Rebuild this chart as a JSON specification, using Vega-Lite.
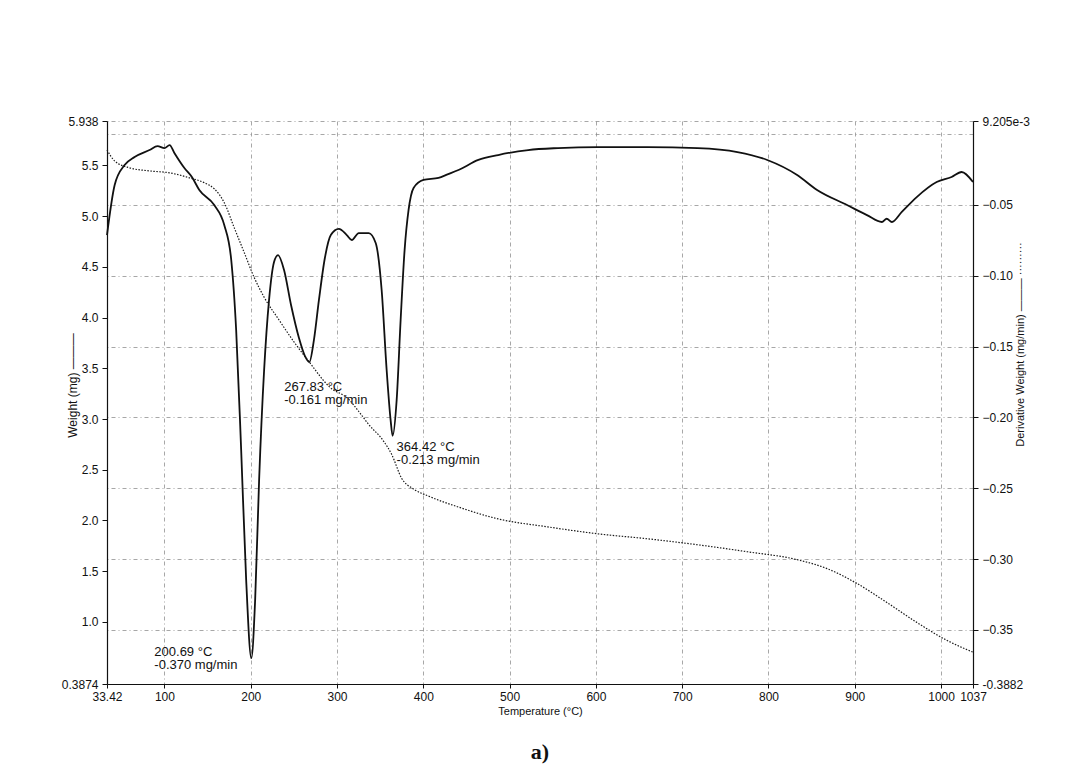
{
  "$schema": "https://vega.github.io/schema/vega-lite/v6.json",
  "width": 866,
  "height": 563,
  "autosize": {"type": "none"},
  "padding": {"left": 107, "top": 121, "right": 95, "bottom": 88},
  "background": "white",
  "title": {"text": "a)", "orient": "bottom", "anchor": "middle", "font": "Liberation Serif", "fontSize": 22, "fontWeight": "bold", "color": "#111", "offset": 26},
  "config": {
    "view": {"stroke": null},
    "font": "Liberation Sans",
    "axis": {"domainColor": "#111", "domainWidth": 1.2, "tickColor": "#111", "labelColor": "#111", "titleColor": "#111", "labelFont": "Liberation Sans", "titleFont": "Liberation Sans", "labelFontSize": 12, "titleFontSize": 11, "titleFontWeight": "normal", "labelOverlap": false, "labelFlush": false, "gridColor": "#8a8a8a", "gridDash": [4, 3, 1, 3], "gridOpacity": 0.75}
  },
  "datasets": {
    "weight": [
      {"T": 33.42, "W": 5.652}, {"T": 42.3, "W": 5.544}, {"T": 59.6, "W": 5.476}, {"T": 82.7, "W": 5.446},
      {"T": 105.8, "W": 5.427}, {"T": 128.9, "W": 5.378}, {"T": 146.2, "W": 5.329}, {"T": 157.7, "W": 5.27},
      {"T": 169.3, "W": 5.133}, {"T": 180.8, "W": 4.887}, {"T": 192.4, "W": 4.642}, {"T": 203.9, "W": 4.397},
      {"T": 215.5, "W": 4.201}, {"T": 232.8, "W": 3.976}, {"T": 250.1, "W": 3.76}, {"T": 267.6, "W": 3.564},
      {"T": 290.9, "W": 3.319}, {"T": 313.9, "W": 3.191}, {"T": 325.2, "W": 3.074}, {"T": 336.7, "W": 2.946},
      {"T": 354.1, "W": 2.78}, {"T": 363.3, "W": 2.652}, {"T": 374.8, "W": 2.417}, {"T": 388.7, "W": 2.309},
      {"T": 406.0, "W": 2.24}, {"T": 440.7, "W": 2.132}, {"T": 486.8, "W": 2.015}, {"T": 544.5, "W": 1.936},
      {"T": 602.3, "W": 1.868}, {"T": 660.0, "W": 1.819}, {"T": 717.8, "W": 1.76}, {"T": 775.6, "W": 1.691},
      {"T": 833.2, "W": 1.613}, {"T": 867.9, "W": 1.525}, {"T": 902.6, "W": 1.378}, {"T": 937.2, "W": 1.191},
      {"T": 971.8, "W": 0.995}, {"T": 1006.5, "W": 0.819}, {"T": 1037, "W": 0.701}
    ],
    "deriv": [
      {"T": 33.42, "D": -0.0713}, {"T": 42.3, "D": -0.036}, {"T": 53.8, "D": -0.0219}, {"T": 65.4, "D": -0.0162},
      {"T": 82.7, "D": -0.0113}, {"T": 92.0, "D": -0.0085}, {"T": 100.0, "D": -0.0099}, {"T": 106.0, "D": -0.0078},
      {"T": 111.5, "D": -0.0134}, {"T": 123.1, "D": -0.024}, {"T": 132.0, "D": -0.0305}, {"T": 140.4, "D": -0.0395},
      {"T": 157.7, "D": -0.0501}, {"T": 169.3, "D": -0.0642}, {"T": 177.4, "D": -0.0889}, {"T": 183.1, "D": -0.1383},
      {"T": 188.9, "D": -0.223}, {"T": 194.7, "D": -0.3148}, {"T": 200.69, "D": -0.37}, {"T": 205.1, "D": -0.3289},
      {"T": 209.7, "D": -0.2442}, {"T": 215.5, "D": -0.1666}, {"T": 221.2, "D": -0.1172}, {"T": 227.0, "D": -0.0903},
      {"T": 231.6, "D": -0.0854}, {"T": 238.6, "D": -0.096}, {"T": 246.7, "D": -0.1207}, {"T": 255.9, "D": -0.144},
      {"T": 262.8, "D": -0.1567}, {"T": 267.83, "D": -0.161}, {"T": 273.2, "D": -0.1454}, {"T": 279.0, "D": -0.1172},
      {"T": 285.9, "D": -0.0875}, {"T": 292.8, "D": -0.0713}, {"T": 302.1, "D": -0.067}, {"T": 311.3, "D": -0.0713},
      {"T": 317.1, "D": -0.0748}, {"T": 325.2, "D": -0.0699}, {"T": 336.7, "D": -0.0699}, {"T": 344.8, "D": -0.0769},
      {"T": 351.7, "D": -0.1101}, {"T": 357.5, "D": -0.1666}, {"T": 362.1, "D": -0.2019}, {"T": 364.42, "D": -0.213},
      {"T": 369.1, "D": -0.1877}, {"T": 373.7, "D": -0.1313}, {"T": 378.3, "D": -0.0819}, {"T": 382.9, "D": -0.0536},
      {"T": 388.7, "D": -0.0381}, {"T": 400.2, "D": -0.0324}, {"T": 417.6, "D": -0.031}, {"T": 428.0, "D": -0.0285},
      {"T": 440.7, "D": -0.0254}, {"T": 463.8, "D": -0.0183}, {"T": 486.8, "D": -0.0148}, {"T": 521.5, "D": -0.0113},
      {"T": 556.1, "D": -0.0099}, {"T": 602.3, "D": -0.0092}, {"T": 660.0, "D": -0.0092}, {"T": 717.8, "D": -0.0099},
      {"T": 764.0, "D": -0.0127}, {"T": 798.6, "D": -0.0183}, {"T": 833.2, "D": -0.0289}, {"T": 856.3, "D": -0.0395},
      {"T": 891.0, "D": -0.0501}, {"T": 914.1, "D": -0.0572}, {"T": 931.4, "D": -0.0621}, {"T": 937.0, "D": -0.0598},
      {"T": 943.0, "D": -0.0621}, {"T": 954.5, "D": -0.055}, {"T": 971.8, "D": -0.0445}, {"T": 994.9, "D": -0.0339},
      {"T": 1012.2, "D": -0.0303}, {"T": 1023.8, "D": -0.0268}, {"T": 1037, "D": -0.0339}
    ],
    "peaks": [
      {"T": 200.69, "D": -0.37, "label": "200.69 °C\n-0.370 mg/min"},
      {"T": 267.83, "D": -0.161, "label": "267.83 °C\n-0.161 mg/min"},
      {"T": 364.42, "D": -0.213, "label": "364.42 °C\n-0.213 mg/min"}
    ]
  },
  "layer": [
    {
      "data": {"name": "weight"},
      "mark": {"type": "line", "color": "#1a1a1a", "strokeWidth": 1.2, "strokeDash": [1.5, 1.5], "interpolate": "monotone"},
      "encoding": {
        "x": {"field": "T", "type": "quantitative", "scale": {"domain": [33.42, 1037], "nice": false, "zero": false},
          "axis": {"title": "Temperature (°C)", "values": [33.42, 100, 200, 300, 400, 500, 600, 700, 800, 900, 1000, 1037], "labelExpr": "datum.value == 33.42 ? '33.42' : format(datum.value, 'd')", "grid": true, "tickSize": 4, "labelPadding": 3, "titlePadding": 3}},
        "y": {"field": "W", "type": "quantitative", "scale": {"domain": [0.3874, 5.938], "nice": false, "zero": false},
          "axis": {"title": "Weight (mg) ———", "orient": "left", "values": [0.3874, 1, 1.5, 2, 2.5, 3, 3.5, 4, 4.5, 5, 5.5, 5.938], "labelExpr": "datum.value == 0.3874 ? '0.3874' : datum.value == 5.938 ? '5.938' : format(datum.value, '.1f')", "grid": false, "tickSize": 5, "labelPadding": 4, "titleAngle": 270, "titleBaseline": "middle", "titleX": -35, "titleY": 264, "titleFontSize": 12}}
      }
    },
    {
      "layer": [
        {
          "data": {"name": "deriv"},
          "mark": {"type": "line", "color": "#111", "strokeWidth": 1.8, "interpolate": "monotone"},
          "encoding": {
            "x": {"field": "T", "type": "quantitative"},
            "y": {"field": "D", "type": "quantitative", "scale": {"domain": [-0.3882, 0.009205], "nice": false, "zero": false},
              "axis": {"title": "Derivative Weight (mg/min) ——— ·········", "orient": "right", "values": [0.009205, 0, -0.05, -0.1, -0.15, -0.2, -0.25, -0.3, -0.35, -0.3882], "labelExpr": "datum.value == 0 ? '' : datum.value > 0.005 ? '9.205e-3' : datum.value < -0.38 ? '-0.3882' : format(datum.value, '.2f')", "tickOpacity": {"condition": {"test": "datum.value == 0", "value": 0}, "value": 1}, "grid": true, "tickSize": 5, "labelPadding": 4, "titleAngle": 270, "titleBaseline": "middle", "titleX": 47, "titleY": 223}}
          }
        },
        {
          "data": {"name": "peaks"},
          "transform": [{"filter": "datum.T == 200.69"}],
          "mark": {"type": "text", "align": "left", "baseline": "top", "dx": -97, "dy": -12, "fontSize": 13, "lineHeight": 13, "lineBreak": "\n", "color": "#111", "font": "Liberation Sans"},
          "encoding": {"x": {"field": "T", "type": "quantitative"}, "y": {"field": "D", "type": "quantitative"}, "text": {"field": "label"}}
        },
        {
          "data": {"name": "peaks"},
          "transform": [{"filter": "datum.T == 267.83"}],
          "mark": {"type": "text", "align": "left", "baseline": "top", "dx": -25, "dy": 19, "fontSize": 13, "lineHeight": 13, "lineBreak": "\n", "color": "#111", "font": "Liberation Sans"},
          "encoding": {"x": {"field": "T", "type": "quantitative"}, "y": {"field": "D", "type": "quantitative"}, "text": {"field": "label"}}
        },
        {
          "data": {"name": "peaks"},
          "transform": [{"filter": "datum.T == 364.42"}],
          "mark": {"type": "text", "align": "left", "baseline": "top", "dx": 4, "dy": 5, "fontSize": 13, "lineHeight": 13, "lineBreak": "\n", "color": "#111", "font": "Liberation Sans"},
          "encoding": {"x": {"field": "T", "type": "quantitative"}, "y": {"field": "D", "type": "quantitative"}, "text": {"field": "label"}}
        }
      ]
    }
  ],
  "resolve": {"scale": {"y": "independent"}, "axis": {"y": "independent"}}
}
